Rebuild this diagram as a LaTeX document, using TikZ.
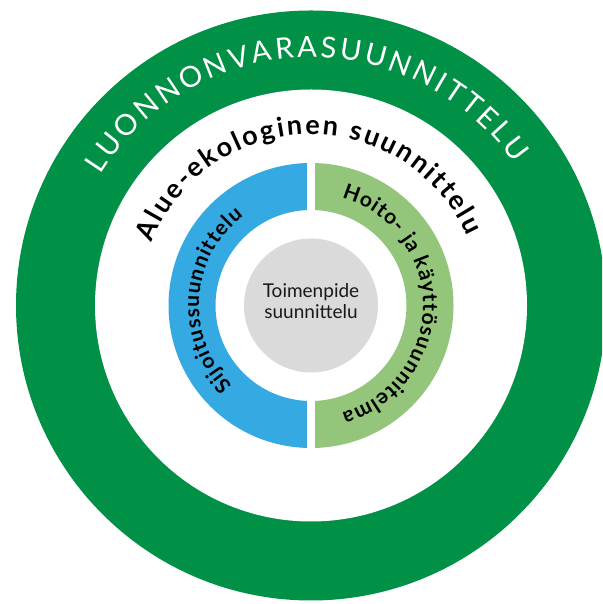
\documentclass[tikz,border=0pt]{standalone}
\usepackage{fontspec}
\setmainfont{Lato}
\usepackage{xcolor}
\usepackage{tikz}
\usetikzlibrary{calc}
\usetikzlibrary{decorations.text}
\definecolor{qqzz4f}{rgb}{0.,0.569,0.275}
\definecolor{ttaadd}{rgb}{0.208,0.667,0.886}
\definecolor{zzcc77}{rgb}{0.576,0.773,0.478}
\definecolor{dcdcdc}{rgb}{0.855,0.855,0.855}
\definecolor{qqqqqq}{rgb}{0.1,0.1,0.1}
\newcommand{\ringfont}{\fontsize{29}{31}\selectfont\color{white}}
\newcommand{\aluefont}{\fontsize{27}{29}\selectfont\bfseries\color{black}}
\newcommand{\halffont}{\fontsize{21}{23}\selectfont\bfseries\color{black}}

\begin{document}
\begin{tikzpicture}[line cap=round,line join=round,x=1.0pt,y=1.0pt]
            \clip(0.,0.) rectangle (602.,604.);
            \coordinate (O) at (311.,298.5);
            \fill[color=qqzz4f] (O) circle (295.);
            \fill[color=white] (O) circle (216.);
            \fill[color=ttaadd] ($(O)+(90:142.5)$) arc (90:270:142.5) -- ($(O)+(270:95.5)$) arc (270:90:95.5) -- cycle;
            \fill[color=zzcc77] ($(O)+(90:142.5)$) arc (90:-90:142.5) -- ($(O)+(-90:95.5)$) arc (-90:90:95.5) -- cycle;
            \fill[color=white] (307.3,150.) rectangle (315.,447.);
            \fill[color=dcdcdc] (O) circle (67.);
            \path[decorate,decoration={text along path,text align={fit to path},
                text={|\ringfont|LUONNONVARASUUNNITTELU}}] ($(O)+(148:248)$) arc (148:35:248);
            \path[decorate,decoration={text along path,text align={fit to path},
                text={|\aluefont|Alue-ekologinen suunnittelu}}] ($(O)+(158.5:171)$) arc (158.5:24:171);
            \path[decorate,decoration={text along path,text align={fit to path},
                text={|\halffont|Sijoitussuunnittelu}}] ($(O)+(225.5:112)$) arc (225.5:127:112);
            \path[decorate,decoration={text along path,text align={fit to path},
                text={|\halffont|Hoito- ja käyttösuunnitelma}}] ($(O)+(74:112)$) arc (74:-74:112);
            \node[align=center,text=qqqqqq,font=\fontsize{19}{21}\selectfont] (toimenpide) at (311.,303.) {Toimenpide\\suunnittelu};
\end{tikzpicture}
\end{document}
